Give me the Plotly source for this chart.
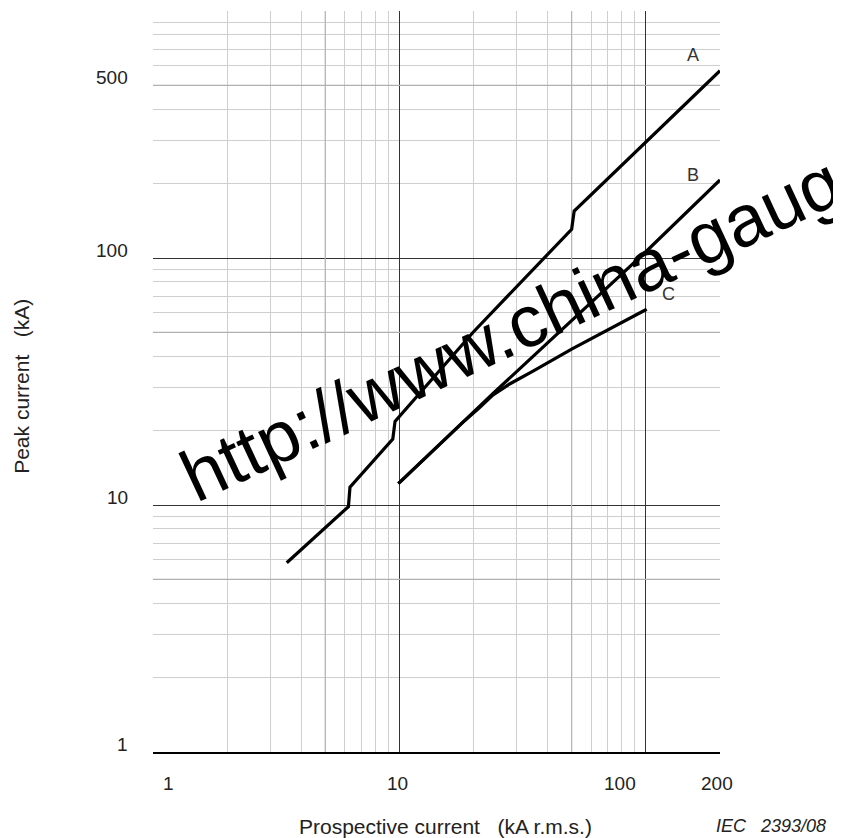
import numpy as np
import plotly.graph_objects as go

# curve A: peak current with step changes of the factor
a_x = [3.49, 6.21, 6.3, 9.4, 9.6, 20.0, 50.0, 51.2, 200]
a_y = [5.84, 9.85, 11.8, 18.5, 21.8, 50.3, 130.7, 155, 573]

# curve B
b_x = [9.9, 24, 100, 200]
b_y = [12.2, 28.3, 106, 207]

# curve C
c_x = [9.9, 18, 21, 24, 28, 35, 50, 70, 100.8]
c_y = [12.2, 21.5, 24.6, 27.9, 30.9, 34.9, 42.8, 51.2, 62]

x_ticks = [1, 10, 100, 200]
y_ticks = [1, 10, 100, 500]

FONT = "Liberation Sans, Arial, sans-serif"
NB = "\u00a0"

fig = go.Figure()

# slightly darker grid lines at 5, 50 and 500
for v in [5, 50]:
    fig.add_trace(go.Scatter(x=[v, v], y=[1, 1000], mode='lines',
                             line=dict(color='#b4b4b4', width=1.2),
                             hoverinfo='skip', showlegend=False))
for v in [5, 50, 500]:
    fig.add_trace(go.Scatter(x=[1, 200], y=[v, v], mode='lines',
                             line=dict(color='#b0b0b0', width=1.2),
                             hoverinfo='skip', showlegend=False))

for xs, ys in [(a_x, a_y), (b_x, b_y), (c_x, c_y)]:
    fig.add_trace(go.Scatter(x=xs, y=ys, mode='lines',
                             line=dict(color='black', width=3.2),
                             showlegend=False))

annotations = []

# x tick labels (placed by hand like the original figure)
x_shift = {1: 15, 10: -2, 100: -26, 200: -3}
for v in x_ticks:
    annotations.append(dict(x=np.log10(v), y=-0.043, xref='x', yref='paper',
                            text=str(v), showarrow=False, xanchor='center',
                            yanchor='middle', xshift=x_shift[v],
                            font=dict(family=FONT, size=19, color='#222')))

# y tick labels
for v in y_ticks:
    annotations.append(dict(x=-0.04, y=np.log10(v), xref='paper', yref='y',
                            text=str(v), showarrow=False, xanchor='right',
                            yanchor='middle', yshift=8,
                            font=dict(family=FONT, size=19, color='#222')))

# curve labels
for txt, lx, ly in [('A', 155.6, 664), ('B', 155.6, 217), ('C', 123.3, 71.3)]:
    annotations.append(dict(x=np.log10(lx), y=np.log10(ly), xref='x', yref='y',
                            text=txt, showarrow=False, xanchor='center',
                            yanchor='middle',
                            font=dict(family=FONT, size=18, color='#333')))

# axis titles
annotations.append(dict(x=0.5163, y=-0.0999, xref='paper', yref='paper',
                        text='Prospective current' + NB * 3 + '(kA r.m.s.)',
                        showarrow=False, xanchor='center', yanchor='middle',
                        font=dict(family=FONT, size=21, color='#222')))
annotations.append(dict(x=-0.2308, y=0.493, xref='paper', yref='paper',
                        text='Peak current' + NB * 3 + '(kA)', textangle=-90,
                        showarrow=False, xanchor='center', yanchor='middle',
                        font=dict(family=FONT, size=21, color='#222')))
annotations.append(dict(x=1.0907, y=-0.0999, xref='paper', yref='paper',
                        text='<i>IEC' + NB * 3 + '2393/08</i>', showarrow=False,
                        xanchor='center', yanchor='middle',
                        font=dict(family=FONT, size=18, color='#222')))

# watermark
annotations.append(dict(x=0.8203, y=0.6385, xref='paper', yref='paper',
                        text='http://www.china-gauges.com', textangle=-25,
                        showarrow=False, xanchor='center', yanchor='middle',
                        font=dict(family=FONT, size=73, color='black')))

fig.update_layout(
    width=833, height=830, autosize=False,
    margin=dict(l=145, r=120.5, t=3, b=86),
    plot_bgcolor='white', paper_bgcolor='white',
    annotations=annotations,
    xaxis=dict(type='log', range=[0, np.log10(200)], dtick=1,
               showticklabels=False, ticks='',
               showgrid=True, gridcolor='#333', gridwidth=1,
               minor=dict(dtick='D1', showgrid=True, gridcolor='#cfcfcf',
                          gridwidth=1.3, ticks=''),
               showline=True, linecolor='black', linewidth=1.5,
               zeroline=False),
    yaxis=dict(type='log', range=[0, 3], dtick=1,
               showticklabels=False, ticks='',
               showgrid=True, gridcolor='#333', gridwidth=1,
               minor=dict(dtick='D1', showgrid=True, gridcolor='#cfcfcf',
                          gridwidth=1.3, ticks=''),
               zeroline=False),
)

fig.write_html("out.html")
